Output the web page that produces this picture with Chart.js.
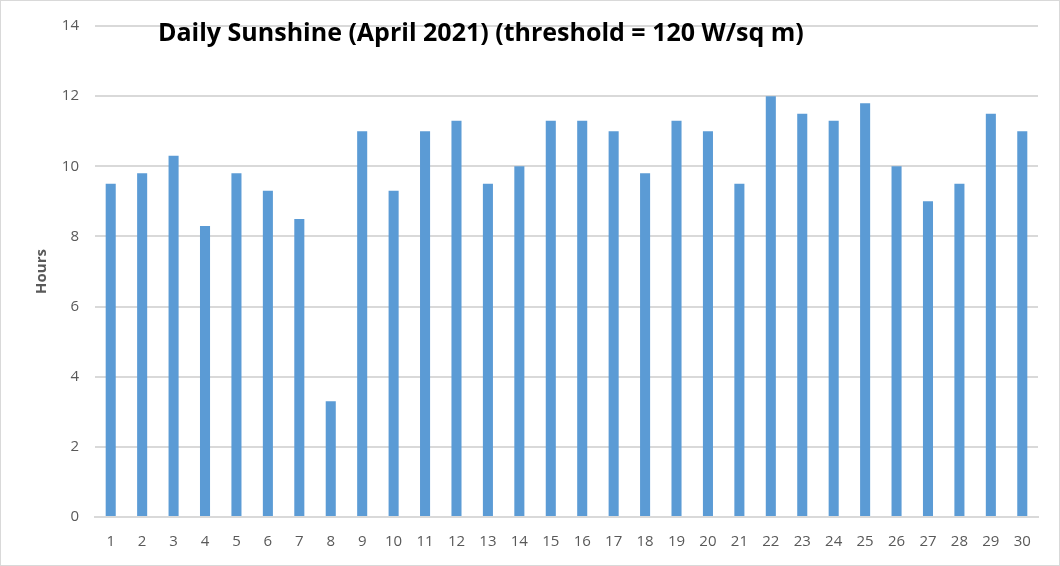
<!DOCTYPE html>
<html lang="en">
<head>
    <meta charset="UTF-8">
    <title>Daily Sunshine</title>
    <script src="https://cdn.jsdelivr.net/npm/chart.js"></script>
    <style>
        html, body { margin: 0; padding: 0; background: #fff; }
        .chart-box {
            width: 1058px; height: 564px;
            border: 1px solid #d9d9d9;
            position: relative;
        }
    </style>
</head>
<body>
    <div class="chart-box">
        <canvas id="sunChart"></canvas>
    </div>

    <script>
        // data
        const days = [];
        for (let d = 1; d <= 30; d++) days.push(String(d));
        const sunHours = [9.5, 9.8, 10.3, 8.3, 9.8, 9.3, 8.5, 3.3, 11, 9.3,
                          11, 11.3, 9.5, 10, 11.3, 11.3, 11, 9.8, 11.3, 11,
                          9.5, 12, 11.5, 11.3, 11.8, 10, 9, 9.5, 11.5, 11];
        const chartTitle = 'Daily Sunshine (April 2021) (threshold = 120 W/sq m)';
        const yTitle = 'Hours';

        // title sits inside the plot, a bit left of centre
        const titlePlugin = {
            id: 'insideTitle',
            afterDraw(chart) {
                const ctx = chart.ctx;
                ctx.save();
                ctx.font = 'bold 25px "Open Sans", "Noto Sans", sans-serif';
                ctx.fillStyle = '#000';
                ctx.textBaseline = 'middle';
                ctx.textAlign = 'left';
                ctx.fillText(chartTitle, 157, 33);
                ctx.restore();
            }
        };

        new Chart(document.getElementById('sunChart'), {
            type: 'bar',
            data: {
                labels: days,
                datasets: [{
                    data: sunHours,
                    backgroundColor: '#5b9bd5',
                    barPercentage: 1,
                    categoryPercentage: 0.32
                }]
            },
            options: {
                responsive: true,
                maintainAspectRatio: false,
                animation: false,
                layout: { padding: { left: 18, right: 21, top: 13, bottom: 6 } },
                plugins: {
                    legend: { display: false },
                    tooltip: { enabled: false }
                },
                scales: {
                    x: {
                        grid: { display: false },
                        border: { color: '#d9d9d9', width: 2 },
                        ticks: {
                            color: '#595959',
                            font: { family: '"Open Sans", sans-serif', size: 15 },
                            maxRotation: 0,
                            autoSkip: false,
                            padding: 8
                        }
                    },
                    y: {
                        min: 0,
                        max: 14,
                        ticks: {
                            stepSize: 2,
                            color: '#595959',
                            font: { family: '"Open Sans", sans-serif', size: 15 },
                            padding: 16
                        },
                        grid: { color: '#d9d9d9', lineWidth: 2, drawTicks: false },
                        border: { display: false },
                        title: {
                            display: true,
                            text: yTitle,
                            color: '#595959',
                            font: { family: '"Open Sans", sans-serif', size: 15, weight: 'bold' },
                            padding: { top: 14, bottom: 0 }
                        },
                        afterFit(scale) { scale.width = 76; }
                    }
                }
            },
            plugins: [titlePlugin]
        });
    </script>
</body>
</html>
